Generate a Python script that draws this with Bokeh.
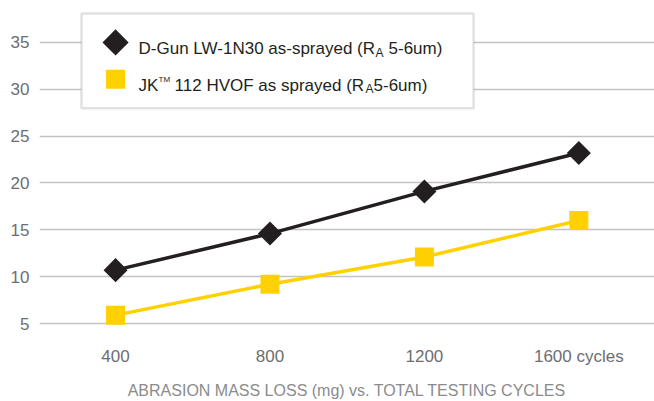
from bokeh.plotting import figure
from bokeh.models import FixedTicker, Range1d, BoxAnnotation, Label
from bokeh.embed import file_html
from bokeh.resources import INLINE

# ---- data ----
cycles = [400, 800, 1200, 1600]
dgun_loss = [10.7, 14.6, 19.1, 23.2]
jk_loss = [5.9, 9.2, 12.1, 16.0]
y_ticks = [5, 10, 15, 20, 25, 30, 35]
x_tick_labels = ["400", "800", "1200", "1600 cycles"]
axis_title = "ABRASION MASS LOSS (mg) vs. TOTAL TESTING CYCLES"

BLACK = "#231f20"
YELLOW = "#ffd100"
FONT = "Liberation Sans"

p = figure(width=654, height=401, output_backend="svg", toolbar_location=None,
           x_range=Range1d(203, 1796), y_range=Range1d(3.94, 39.47),
           min_border_left=39, min_border_right=0, min_border_top=0,
           min_border_bottom=67)
p.outline_line_color = None
p.background_fill_color = "white"

# grid
p.xgrid.visible = False
p.ygrid.ticker = FixedTicker(ticks=y_ticks)
p.ygrid.grid_line_color = "#c2c2c2"
p.ygrid.grid_line_width = 1.5

# y axis
p.yaxis.ticker = FixedTicker(ticks=y_ticks)
p.yaxis.axis_line_color = None
p.yaxis.major_tick_line_color = None
p.yaxis.minor_tick_line_color = None
p.yaxis.major_tick_out = 0
p.yaxis.major_tick_in = 0
p.yaxis.major_label_standoff = 10
p.yaxis.major_label_text_font = FONT
p.yaxis.major_label_text_font_size = "17px"
p.yaxis.major_label_text_color = "#6d6e71"

# x axis
p.xaxis.ticker = FixedTicker(ticks=cycles)
p.xaxis.major_label_overrides = {c: lab for c, lab in zip(cycles, x_tick_labels)}
p.xaxis.axis_line_color = None
p.xaxis.major_tick_line_color = None
p.xaxis.minor_tick_line_color = None
p.xaxis.major_tick_out = 0
p.xaxis.major_tick_in = 0
p.xaxis.major_label_standoff = 13
p.xaxis.major_label_text_font = FONT
p.xaxis.major_label_text_font_size = "17px"
p.xaxis.major_label_text_color = "#6d6e71"
p.xaxis.axis_label = axis_title
p.xaxis.axis_label_standoff = 13
p.xaxis.axis_label_text_font = FONT
p.xaxis.axis_label_text_font_size = "16px"
p.xaxis.axis_label_text_font_style = "normal"
p.xaxis.axis_label_text_color = "#8a8b8d"

# series
p.line(cycles, jk_loss, line_color=YELLOW, line_width=3.5)
p.scatter(cycles, jk_loss, marker="square", size=19, fill_color=YELLOW, line_color=None)
p.line(cycles, dgun_loss, line_color=BLACK, line_width=3.5)
p.scatter(cycles, dgun_loss, marker="square", angle=0.785398, size=17,
          fill_color=BLACK, line_color=None)

# ---- legend (drawn by hand to allow sub/superscripts) ----
box = BoxAnnotation(left=311.8, right=1327.4, top=38.09, bottom=27.98,
                    fill_color="white", fill_alpha=1.0,
                    line_color="#9d9d9d", line_width=2.5, level="underlay")
p.add_layout(box)

leg_x = 400
row1_y, row2_y = 35.0, 31.06
p.scatter([leg_x], [row1_y], marker="square", angle=0.785398, size=18.5,
          fill_color=BLACK, line_color=None)
p.scatter([leg_x], [row2_y], marker="square", size=19, fill_color=YELLOW, line_color=None)

b1 = 34.36  # baseline row 1
b2 = 30.43  # baseline row 2

def lab(text, xo, y, size="17px"):
    p.add_layout(Label(x=leg_x, y=y, x_offset=xo, text=text, text_font=FONT,
                       text_font_size=size, text_color=BLACK,
                       text_baseline="alphabetic", text_align="left"))

lab("D-Gun LW-1N30 as-sprayed (R", 23, b1)
lab("A", 260, b1 - 0.45, "12px")
lab("5-6um)", 273, b1)

lab("JK", 23, b2)
lab("TM", 43, b2 + 0.6, "8px")
lab("112 HVOF as sprayed (R", 59, b2)
lab("A", 250, b2 - 0.45, "12px")
lab("5-6um)", 258, b2)

open("out.html", "w").write(file_html(p, INLINE))
